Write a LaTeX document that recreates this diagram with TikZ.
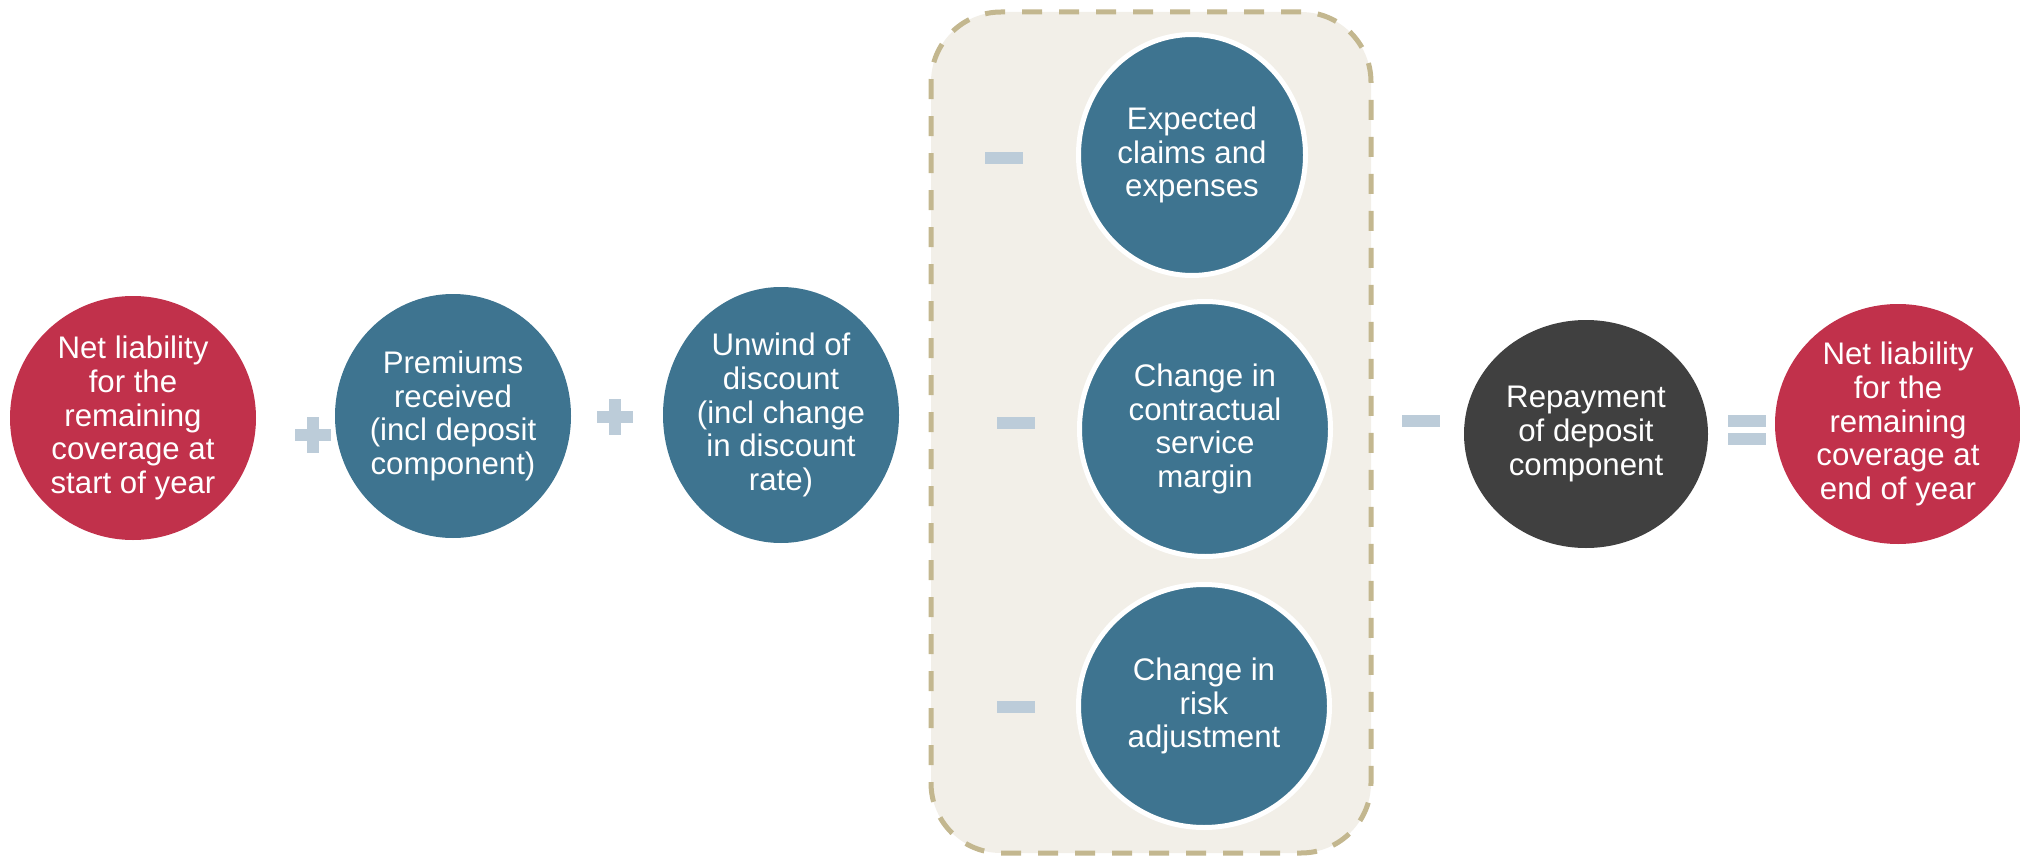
\documentclass[tikz,border=0pt]{standalone}
\usepackage{fontspec}
\setmainfont{Liberation Sans}
\usetikzlibrary{shapes.geometric}
\definecolor{cred}{HTML}{C1314B}
\definecolor{cblue}{HTML}{3E7490}
\definecolor{cgrey}{HTML}{404040}
\definecolor{opc}{HTML}{BCCCD9}
\definecolor{boxfill}{HTML}{F2EFE8}
\definecolor{dashc}{HTML}{C3B78F}
\begin{document}
\begin{tikzpicture}[x=0.5pt,y=-0.5pt,
  bub/.style={ellipse, inner sep=0pt, draw=none},
  ringed/.style={draw=white, line width=2.5pt},
  txt/.style={text=white, align=center, inner sep=0pt,
    font=\fontsize{15.6pt}{16.8pt}\selectfont},
  hbar/.style={rectangle, fill=opc, inner sep=0pt, draw=none,
    minimum width=19pt, minimum height=6pt},
  vbar/.style={rectangle, fill=opc, inner sep=0pt, draw=none,
    minimum width=6pt, minimum height=18pt},
  plusbar/.style={rectangle, fill=opc, inner sep=0pt, draw=none,
    minimum width=18pt, minimum height=6pt},
  grp/.style={rectangle, fill=boxfill, draw=dashc, line width=2.5pt,
    dash pattern=on 10pt off 8.5pt, rounded corners=35pt, inner sep=0pt,
    minimum width=220pt, minimum height=420.5pt}
]
\useasboundingbox (0,0) rectangle (2020,856);

% group box
\node[grp] (box) at (1151,432.5) {};

% circles
\node[bub, fill=cred, minimum width=123pt, minimum height=122pt] (c1) at (133,418) {};
\node[bub, fill=cblue, minimum width=118pt, minimum height=122pt] (c2) at (453,416) {};
\node[bub, fill=cblue, minimum width=118pt, minimum height=128pt] (c3) at (781,415) {};
\node[bub, ringed, fill=cblue, minimum width=113.5pt, minimum height=120.5pt] (c4) at (1192,155) {};
\node[bub, ringed, fill=cblue, minimum width=125.5pt, minimum height=127.5pt] (c5) at (1205,429) {};
\node[bub, ringed, fill=cblue, minimum width=125.5pt, minimum height=121.5pt] (c6) at (1204,706) {};
\node[bub, fill=cgrey, minimum width=122pt, minimum height=114pt] (c7) at (1586,434) {};
\node[bub, fill=cred, minimum width=123pt, minimum height=120pt] (c8) at (1898,424) {};

% texts
\node[txt] (t1) at (c1) {Net liability\\for the\\remaining\\coverage at\\start of year};
\node[txt] (t2) at (c2) {Premiums\\received\\(incl deposit\\component)};
\node[txt] (t3) at (c3) {Unwind of\\discount\\(incl change\\in discount\\rate)};
\node[txt] (t4) at (c4) {Expected\\claims and\\expenses};
\node[txt] (t5) at (c5) {Change in\\contractual\\service\\margin};
\node[txt] (t6) at (c6) {Change in\\risk\\adjustment};
\node[txt] (t7) at (c7) {Repayment\\of deposit\\component};
\node[txt] (t8) at (c8) {Net liability\\for the\\remaining\\coverage at\\end of year};

% operators
\node[plusbar] (p1h) at (313,435) {};
\node[vbar] (p1v) at (313,435) {};
\node[plusbar] (p2h) at (615,417) {};
\node[vbar] (p2v) at (615,417) {};
\node[hbar] (m1) at (1004,158) {};
\node[hbar] (m2) at (1016,423) {};
\node[hbar] (m3) at (1016,707) {};
\node[hbar] (m4) at (1421,421) {};
\node[hbar] (e1) at (1747,420.5) {};
\node[hbar] (e2) at (1747,439) {};
\end{tikzpicture}
\end{document}
